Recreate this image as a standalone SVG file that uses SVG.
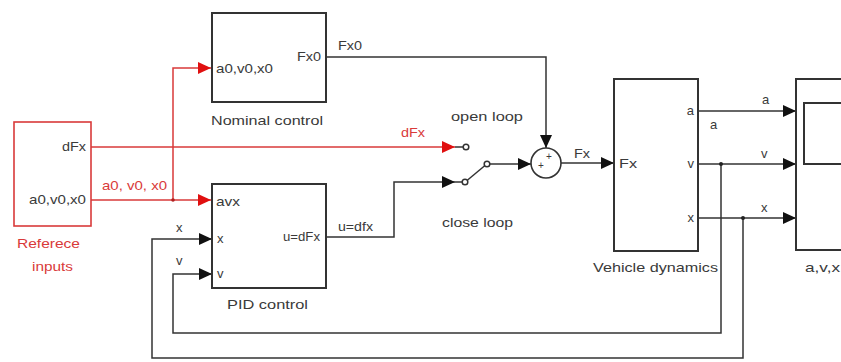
<svg xmlns="http://www.w3.org/2000/svg" width="841" height="362" viewBox="0 0 841 362">
<style>
.blk{fill:#fff;stroke:#333;stroke-width:2}
.rblk{fill:#fff;stroke:#d93a3a;stroke-width:1.6}
.ln{fill:none;stroke:#333;stroke-width:1.5}
.rln{fill:none;stroke:#d93a3a;stroke-width:1.5}
.t{font-family:"Liberation Sans",Arial,sans-serif;font-size:13px;fill:#3a3a3a}
.rt{font-family:"Liberation Sans",Arial,sans-serif;font-size:13px;fill:#d93a3a}
.term{fill:#fff;stroke:#333;stroke-width:1.5}
</style>
<defs>
<marker id="ab" markerUnits="userSpaceOnUse" markerWidth="14" markerHeight="14" refX="13" refY="7" orient="auto"><path d="M0,1 L13,7 L0,13 z" fill="#111"/></marker>
<marker id="ar" markerUnits="userSpaceOnUse" markerWidth="14" markerHeight="14" refX="13" refY="7" orient="auto"><path d="M0,1 L13,7 L0,13 z" fill="#e01010"/></marker>
</defs>

<g id="connectors">
<path class="rln" d="M91,147 H455" marker-end="url(#ar)"/>
<path class="ln" d="M455,147 H463"/>
<path class="rln" d="M91,200 H211" marker-end="url(#ar)"/>
<path class="rln" d="M173,200 V68 H211" marker-end="url(#ar)"/>
<circle cx="173" cy="200" r="1.8" fill="#b02020"/>
<path class="ln" d="M326,57 H546 V148" marker-end="url(#ab)"/>
<path class="ln" d="M326,237 H394 V182 H455" marker-end="url(#ab)"/>
<path class="ln" d="M455,182 H462"/>
<path class="ln" d="M467,180.5 L485,165.5"/>
<path class="ln" d="M490,164 H531" marker-end="url(#ab)"/>
<path class="ln" d="M561,163 H614" marker-end="url(#ab)"/>
<path class="ln" d="M698,111 H796" marker-end="url(#ab)"/>
<path class="ln" d="M698,164 H796" marker-end="url(#ab)"/>
<path class="ln" d="M698,218 H796" marker-end="url(#ab)"/>
<path class="ln" d="M721,164 V333 H173 V274 H212" marker-end="url(#ab)"/>
<path class="ln" d="M743,218 V358 H152 V239 H212" marker-end="url(#ab)"/>
<circle cx="721" cy="164" r="2" fill="#222"/>
<circle cx="743" cy="218" r="2" fill="#222"/>
<text class="rt" x="102" y="190" textLength="65" lengthAdjust="spacingAndGlyphs">a0, v0, x0</text>
<text class="rt" x="401" y="137" textLength="24" lengthAdjust="spacingAndGlyphs">dFx</text>
<text class="t" x="338" y="50" textLength="24" lengthAdjust="spacingAndGlyphs">Fx0</text>
<text class="t" x="338" y="231" textLength="35" lengthAdjust="spacingAndGlyphs">u=dfx</text>
<text class="t" x="574" y="158" textLength="16" lengthAdjust="spacingAndGlyphs">Fx</text>
<text class="t" x="762" y="104">a</text>
<text class="t" x="710" y="129">a</text>
<text class="t" x="761" y="158">v</text>
<text class="t" x="761" y="212">x</text>
<text class="t" x="176" y="232">x</text>
<text class="t" x="176" y="265">v</text>
</g>

<g id="reference-inputs">
<rect class="rblk" x="14" y="122" width="77" height="104"/>
<text class="t" x="62" y="151" textLength="24" lengthAdjust="spacingAndGlyphs">dFx</text>
<text class="t" x="29" y="204" textLength="57" lengthAdjust="spacingAndGlyphs">a0,v0,x0</text>
<text class="rt" x="17" y="248" textLength="63" lengthAdjust="spacingAndGlyphs">Referece</text>
<text class="rt" x="32" y="271" textLength="41" lengthAdjust="spacingAndGlyphs">inputs</text>
</g>

<g id="nominal-control">
<rect class="blk" x="212" y="13" width="114" height="89"/>
<text class="t" x="216" y="73" textLength="57" lengthAdjust="spacingAndGlyphs">a0,v0,x0</text>
<text class="t" x="297" y="61" textLength="24" lengthAdjust="spacingAndGlyphs">Fx0</text>
<text class="t" x="211" y="125" textLength="112" lengthAdjust="spacingAndGlyphs">Nominal control</text>
</g>

<g id="pid-control">
<rect class="blk" x="212" y="184" width="114" height="104"/>
<text class="t" x="216" y="206" textLength="24" lengthAdjust="spacingAndGlyphs">avx</text>
<text class="t" x="217" y="243">x</text>
<text class="t" x="217" y="278">v</text>
<text class="t" x="283" y="241" textLength="37" lengthAdjust="spacingAndGlyphs">u=dFx</text>
<text class="t" x="227" y="309" textLength="81" lengthAdjust="spacingAndGlyphs">PID  control</text>
</g>

<g id="switch">
<circle class="term" cx="466" cy="147" r="2.8"/>
<circle class="term" cx="465" cy="182" r="2.8"/>
<circle class="term" cx="487" cy="164" r="2.8"/>
<text class="t" x="451" y="121" textLength="72" lengthAdjust="spacingAndGlyphs">open loop</text>
<text class="t" x="442" y="227" textLength="71" lengthAdjust="spacingAndGlyphs">close loop</text>
</g>

<g id="sum">
<circle cx="546" cy="163" r="15" fill="#fff" stroke="#333" stroke-width="1.6"/>
<text class="t" x="549" y="160" text-anchor="middle" style="font-size:10px">+</text>
<text class="t" x="541" y="169" text-anchor="middle" style="font-size:10px">+</text>
</g>

<g id="vehicle-dynamics">
<rect class="blk" x="614" y="79" width="84" height="172"/>
<text class="t" x="619" y="168" textLength="18" lengthAdjust="spacingAndGlyphs">Fx</text>
<text class="t" x="694" y="115" text-anchor="end">a</text>
<text class="t" x="694" y="168" text-anchor="end">v</text>
<text class="t" x="694" y="222" text-anchor="end">x</text>
<text class="t" x="593" y="272" textLength="125" lengthAdjust="spacingAndGlyphs">Vehicle dynamics</text>
</g>

<g id="scope">
<rect class="blk" x="796" y="79" width="60" height="171"/>
<rect class="blk" x="804" y="103" width="50" height="61"/>
<text class="t" x="805" y="272" textLength="35" lengthAdjust="spacingAndGlyphs">a,v,x</text>
</g>
</svg>
